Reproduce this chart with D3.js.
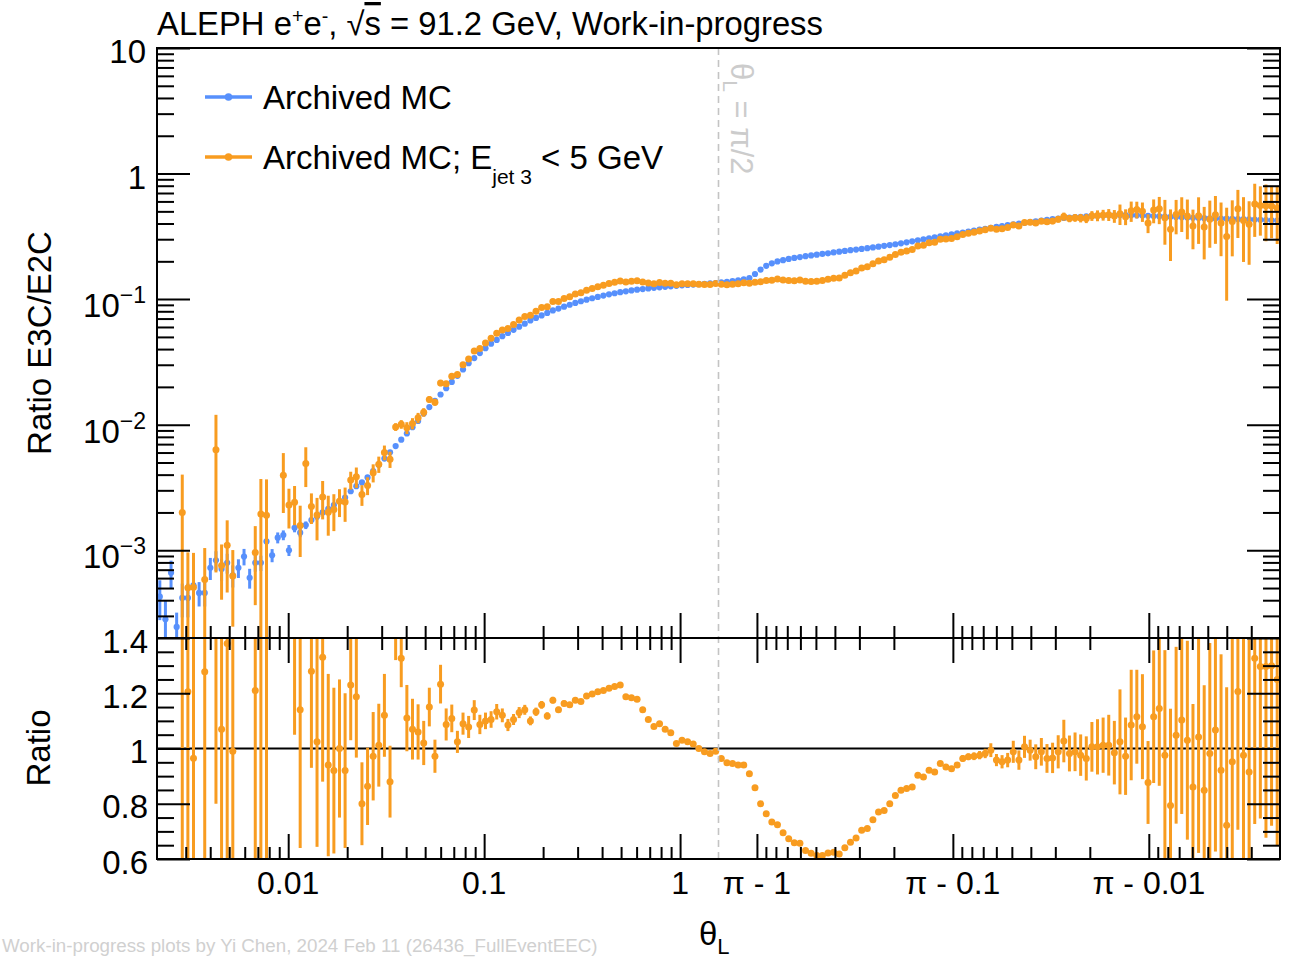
<!DOCTYPE html>
<html><head><meta charset="utf-8">
<script src="https://cdn.jsdelivr.net/npm/d3@7"></script>
<style>
body{margin:0;background:#fff}
svg{display:block}
text{font-family:"Liberation Sans",Arial,Helvetica,sans-serif}
</style>
</head><body>
<svg id="c" width="1296" height="959"></svg>
<script>
// ---------------- DATA ----------------
// Histogram binning: 100 log bins from thetaMin to pi/2, mirrored (in pi - theta) on the right half
const thetaMin = 0.00214;
const binsPerHalf = 100;

// Archived MC: E3C/E2C ratio per bin (200 bins, left half then right half)
const blueValues = [
  4.27e-4, 2.82e-4, 6.61e-4, 2.45e-4, 4.17e-4, 4.17e-4, 5.25e-4, 4.57e-4, 4.57e-4, 7.24e-4,
  8.32e-4, 7.08e-4, 7.94e-4, 6.31e-4, 7.24e-4, 8.91e-4, 6.03e-4, 7.94e-4, 7.94e-4, 1.175e-3,
  9.12e-4, 1.26e-3, 1.32e-3, 1.00e-3, 1.51e-3, 1.38e-3, 1.585e-3, 1.74e-3, 1.86e-3, 2.00e-3,
  2.14e-3, 2.29e-3, 2.45e-3, 2.63e-3, 2.95e-3, 3.24e-3, 3.47e-3, 3.80e-3, 4.27e-3, 4.79e-3,
  5.37e-3, 6.03e-3, 6.76e-3, 7.59e-3, 8.51e-3, 9.55e-3, 0.0107, 0.0123, 0.0138, 0.0155,
  0.0174, 0.0195, 0.0219, 0.0245, 0.0275, 0.0309, 0.0339, 0.0372, 0.0407, 0.0442,
  0.0473, 0.0507, 0.0537, 0.0569, 0.0603, 0.0638, 0.0676, 0.0708, 0.0741, 0.0776,
  0.0813, 0.0841, 0.0871, 0.0902, 0.0933, 0.0962, 0.0989, 0.1016, 0.1042, 0.1067,
  0.1091, 0.1114, 0.1135, 0.1153, 0.1172, 0.1189, 0.1202, 0.1216, 0.1230, 0.1242,
  0.1253, 0.1265, 0.1276, 0.1288, 0.1297, 0.1306, 0.1315, 0.1324, 0.1334, 0.1343,
  0.1361, 0.1374, 0.1390, 0.1413, 0.1439, 0.1472, 0.1585, 0.1718, 0.1841, 0.1928,
  0.1995, 0.2042, 0.2089, 0.2128, 0.2163, 0.2198, 0.2228, 0.2259, 0.2291, 0.2317,
  0.2355, 0.2388, 0.2421, 0.2455, 0.2483, 0.2512, 0.2547, 0.2582, 0.2618, 0.2655,
  0.2692, 0.2735, 0.2780, 0.2831, 0.2884, 0.2938, 0.2992, 0.3048, 0.3105, 0.3162,
  0.3221, 0.3273, 0.3334, 0.3388, 0.3451, 0.3508, 0.3573, 0.3631, 0.3698, 0.3758,
  0.3819, 0.3882, 0.3945, 0.3999, 0.4055, 0.4111, 0.4169, 0.4227, 0.4285, 0.4335,
  0.4385, 0.4426, 0.4467, 0.4498, 0.4529, 0.4560, 0.4581, 0.4603, 0.4624, 0.4645,
  0.4656, 0.4667, 0.4667, 0.4656, 0.4645, 0.4634, 0.4613, 0.4592, 0.4571, 0.4550,
  0.4529, 0.4508, 0.4487, 0.4467, 0.4446, 0.4426, 0.4416, 0.4406, 0.4395, 0.4385,
  0.4375, 0.4365, 0.4345, 0.4335, 0.4315, 0.4305, 0.4285, 0.4266, 0.4246, 0.4227
];
// relative statistical uncertainty of Archived MC
const blueRelErr = [
  0.35, 0.40, 0.25, 0.30, 0.30, 0.30, 0.25, 0.22, 0.22, 0.20,
  0.18, 0.20, 0.18, 0.20, 0.17, 0.15, 0.18, 0.15, 0.14, 0.10,
  0.12, 0.10, 0.09, 0.10, 0.08, 0.08, 0.07, 0.06, 0.06, 0.05,
  0.05, 0.04, 0.04, 0.04, 0.04, 0.04, 0.03, 0.03, 0.03, 0.03,
  0.03, 0.02, 0.02, 0.02, 0.02, 0.02, 0.012, 0.012, 0.012, 0.012,
  0.012, 0.012, 0.012, 0.012, 0.012, 0.012, 0.005, 0.005, 0.005, 0.005,
  0.005, 0.005, 0.005, 0.005, 0.005, 0.005, 0.005, 0.005, 0.005, 0.005,
  0.005, 0.005, 0.005, 0.005, 0.005, 0.005, 0.005, 0.005, 0.005, 0.005,
  0.005, 0.005, 0.005, 0.005, 0.005, 0.005, 0.005, 0.005, 0.005, 0.005,
  0.005, 0.005, 0.005, 0.005, 0.005, 0.005, 0.005, 0.005, 0.005, 0.005,
  0.003, 0.003, 0.003, 0.003, 0.003, 0.003, 0.003, 0.003, 0.003, 0.003,
  0.003, 0.003, 0.003, 0.003, 0.003, 0.003, 0.003, 0.003, 0.003, 0.003,
  0.003, 0.003, 0.003, 0.003, 0.003, 0.003, 0.003, 0.003, 0.003, 0.003,
  0.003, 0.003, 0.003, 0.003, 0.003, 0.003, 0.003, 0.003, 0.003, 0.003,
  0.003, 0.003, 0.003, 0.003, 0.003, 0.003, 0.003, 0.003, 0.003, 0.003,
  0.003, 0.003, 0.003, 0.003, 0.003, 0.003, 0.003, 0.003, 0.003, 0.003,
  0.003, 0.008, 0.008, 0.008, 0.008, 0.008, 0.008, 0.008, 0.008, 0.008,
  0.008, 0.008, 0.008, 0.008, 0.008, 0.008, 0.015, 0.015, 0.015, 0.015,
  0.015, 0.015, 0.015, 0.015, 0.015, 0.015, 0.015, 0.015, 0.015, 0.015,
  0.025, 0.025, 0.025, 0.025, 0.025, 0.025, 0.025, 0.025, 0.025, 0.025
];
// Ratio (Archived MC; E_jet3 < 5 GeV) / (Archived MC), null = empty bin
const ratioValues = [
  null, null, null, null, 4.8, 1.205, 0.965, null, 1.278, null,
  7.6, 1.07, 1.38, 0.99, null, null, null, 1.21, 2.45, 1.62,
  null, null, 3.0, 2.29, 1.6, 1.14, 3.09, 1.28, 1.024, 1.33,
  0.94, 0.92, 1.0, 0.92, 1.23, 1.187, 0.80, 0.863, 0.972, 1.012,
  1.12, 0.88, 1.42, 1.327, 1.11, 1.07, 1.06, 1.02, 1.15, 0.972,
  1.233, 1.087, 1.109, 1.024, 1.09, 1.078, 1.139, 1.087, 1.10, 1.105,
  1.133, 1.12, 1.085, 1.105, 1.13, 1.14, 1.10, 1.133, 1.158, 1.118,
  1.175, 1.14, 1.163, 1.158, 1.175, 1.17, 1.19, 1.197, 1.205, 1.21,
  1.218, 1.224, 1.23, 1.187, 1.184, 1.178, 1.14, 1.105, 1.08, 1.09,
  1.07, 1.057, 1.018, 1.03, 1.024, 1.016, 1.0, 0.988, 0.982, 0.99,
  0.964, 0.948, 0.946, 0.94, 0.94, 0.909, 0.858, 0.80, 0.764, 0.734,
  0.724, 0.695, 0.673, 0.659, 0.657, 0.631, 0.621, 0.613, 0.613, 0.622,
  0.624, 0.618, 0.641, 0.661, 0.676, 0.704, 0.71, 0.742, 0.77, 0.776,
  0.80, 0.83, 0.849, 0.855, 0.861, 0.903, 0.897, 0.921, 0.915, 0.946,
  0.933, 0.927, 0.94, 0.964, 0.97, 0.972, 0.976, 0.982, 0.994, 0.958,
  0.952, 0.958, 0.988, 0.958, 1.006, 0.994, 0.97, 0.988, 0.964, 0.966,
  0.988, 1.027, 0.982, 0.988, 0.976, 0.964, 1.006, 1.006, 1.012, 1.012,
  0.985, 1.024, 0.972, 1.085, 1.115, 1.079, 0.877, 1.115, 1.145, 0.976,
  0.794, 1.048, 1.103, 1.03, 0.861, 1.042, 0.849, 0.982, 1.067, 0.921,
  0.722, 0.952, 1.206, 0.976, 0.915, 1.327, 1.297, 1.297, 1.30, 1.25
];
const ratioErrors = [
  0, 0, 0, 0, 4.8, 1.1, 0.85, 0, 1.0, 0,
  6.8, 0.5, 0.8, 0.6, 0, 0, 0, 0.75, 2.2, 1.5,
  0, 0, 1.5, 0.8, 0.55, 0.5, 1.08, 0.35, 0.38, 0.45,
  0.33, 0.3, 0.25, 0.28, 0.2, 0.22, 0.15, 0.14, 0.16, 0.15,
  0.15, 0.13, 0.1, 0.105, 0.12, 0.11, 0.1, 0.08, 0.07, 0.06,
  0.07, 0.058, 0.05, 0.04, 0.04, 0.04, 0.036, 0.035, 0.03, 0.03,
  0.028, 0.025, 0.022, 0.02, 0.02, 0.018, 0.016, 0.015, 0.014, 0.013,
  0.012, 0.011, 0.011, 0.01, 0.01, 0.009, 0.008, 0.008, 0.008, 0.008,
  0.008, 0.008, 0.008, 0.008, 0.008, 0.008, 0.007, 0.007, 0.007, 0.007,
  0.007, 0.007, 0.007, 0.007, 0.007, 0.007, 0.007, 0.007, 0.007, 0.007,
  0.006, 0.006, 0.006, 0.006, 0.006, 0.006, 0.006, 0.006, 0.006, 0.006,
  0.006, 0.006, 0.006, 0.006, 0.006, 0.006, 0.006, 0.006, 0.006, 0.006,
  0.006, 0.006, 0.006, 0.006, 0.006, 0.006, 0.006, 0.006, 0.006, 0.006,
  0.006, 0.006, 0.006, 0.006, 0.006, 0.006, 0.006, 0.006, 0.006, 0.006,
  0.006, 0.01, 0.01, 0.012, 0.012, 0.014, 0.015, 0.017, 0.025, 0.022,
  0.024, 0.026, 0.04, 0.035, 0.04, 0.038, 0.045, 0.05, 0.052, 0.055,
  0.06, 0.077, 0.065, 0.07, 0.075, 0.08, 0.09, 0.1, 0.1, 0.11,
  0.115, 0.19, 0.14, 0.2, 0.17, 0.19, 0.15, 0.24, 0.28, 0.38,
  0.35, 0.32, 0.34, 0.36, 0.3, 0.42, 0.38, 0.4, 0.44, 0.42,
  0.5, 0.45, 0.5, 0.52, 0.48, 0.6, 0.55, 0.62, 0.58, 0.6
];

const seriesNames = ["Archived MC", "Archived MC; E", "jet 3", " < 5 GeV"];
const xTickThetas = [0.01, 0.1, 1, Math.PI - 1, Math.PI - 0.1, Math.PI - 0.01];
const xTickLabels = ["0.01", "0.1", "1", "\u03c0 - 1", "\u03c0 - 0.1", "\u03c0 - 0.01"];
const yTopTicks = [10, 1, 0.1, 0.01, 0.001];
const yTopLabels = [["10", ""], ["1", ""], ["10", "\u22121"], ["10", "\u22122"], ["10", "\u22123"]];
const yRatioTicks = [1.4, 1.2, 1, 0.8, 0.6];
const yRatioLabels = ["1.4", "1.2", "1", "0.8", "0.6"];

// ---------------- LAYOUT ----------------
const BLUE = "#5790fc", ORANGE = "#f89c20";
const L = 157, R = 1280, T = 48, M = 638, B = 859;
const halfPi = Math.PI / 2;
const fold = th => th <= halfPi ? Math.log10(th) : 2 * Math.log10(halfPi) - Math.log10(Math.PI - th);
const uMin = Math.log10(thetaMin), uMax = 2 * Math.log10(halfPi) - uMin;
const x = d3.scaleLinear().domain([uMin, uMax]).range([L, R]);
const yTop = d3.scaleLog().domain([2e-4, 10]).range([M, T]).clamp(true);
const yRat = d3.scaleLinear().domain([0.6, 1.4]).range([B, M]);

const svg = d3.select("#c");
const defs = svg.append("defs");
defs.append("clipPath").attr("id", "clipTop").append("rect").attr("x", L).attr("y", T).attr("width", R - L).attr("height", M - T);
defs.append("clipPath").attr("id", "clipRat").append("rect").attr("x", L).attr("y", M).attr("width", R - L).attr("height", B - M);

// bins (log centres, folded coordinate)
const du = (Math.log10(halfPi) - uMin) / binsPerHalf;
const bins = blueValues.map((b, i) => {
  const u = uMin + (i + 0.5) * du;
  return { u, b, be: b * blueRelErr[i], r: ratioValues[i], re: ratioErrors[i] };
});
const safe = v => Math.max(v, 1e-9);

// ---------------- TOP PANEL DATA ----------------
const gTop = svg.append("g").attr("clip-path", "url(#clipTop)");
function drawSeries(g, pts, getV, getE, yS, color, rad, log) {
  g.selectAll(null).data(pts).join("line")
    .attr("x1", d => x(d.u)).attr("x2", d => x(d.u))
    .attr("y1", d => yS(log ? safe(getV(d) - getE(d)) : getV(d) - getE(d)))
    .attr("y2", d => yS(getV(d) + getE(d)))
    .attr("stroke", color).attr("stroke-width", 3);
  g.selectAll(null).data(pts).join("circle")
    .attr("cx", d => x(d.u)).attr("cy", d => yS(getV(d)))
    .attr("r", rad).attr("fill", color);
}
drawSeries(gTop, bins, d => d.b, d => d.be, yTop, BLUE, 3.1, true);
const orangePts = bins.filter(d => d.r !== null);
drawSeries(gTop, orangePts, d => d.b * d.r, d => d.b * d.re, yTop, ORANGE, 3.5, true);

// ---------------- RATIO PANEL DATA ----------------
const gRat = svg.append("g").attr("clip-path", "url(#clipRat)");
gRat.append("line").attr("x1", L).attr("x2", R).attr("y1", yRat(1)).attr("y2", yRat(1))
  .attr("stroke", "#000").attr("stroke-width", 2);
drawSeries(gRat, orangePts, d => d.r, d => d.re, yRat, ORANGE, 3.5, false);

// ---------------- pi/2 dashed line ----------------
svg.append("line").attr("x1", x(fold(halfPi))).attr("x2", x(fold(halfPi)))
  .attr("y1", T).attr("y2", B).attr("stroke", "#c4c4c4").attr("stroke-width", 1.6)
  .attr("stroke-dasharray", "7,5");
const pl = svg.append("text").attr("transform", `translate(${x(fold(halfPi)) + 12},63) rotate(90)`)
  .attr("font-size", 31).attr("fill", "#cccccc");
pl.append("tspan").text("\u03b8");
pl.append("tspan").attr("font-size", 21).attr("dy", 8).text("L");
pl.append("tspan").attr("dy", -8).text(" = \u03c0/2");

// ---------------- AXES (ticks) ----------------
const tickStyle = g => { g.select(".domain").remove(); g.selectAll("line").attr("stroke", "#000").attr("stroke-width", 2); };
const yTopMinor = [];
[-4, -3, -2, -1, 0].forEach(e => { for (let k = 2; k <= 9; k++) { const v = k * Math.pow(10, e); if (v > 2e-4 && v < 10) yTopMinor.push(v); } });
const yRatMinor = d3.range(0.65, 1.4, 0.05).filter(v => Math.abs(Math.round(v * 5) - v * 5) > 1e-6);

[[L, d3.axisRight], [R, d3.axisLeft]].forEach(([xx, ax]) => {
  svg.append("g").attr("transform", `translate(${xx},0)`).call(ax(yTop).tickValues(yTopTicks).tickSize(33).tickFormat("")).call(tickStyle);
  svg.append("g").attr("transform", `translate(${xx},0)`).call(ax(yTop).tickValues(yTopMinor).tickSize(17).tickFormat("")).call(tickStyle);
  svg.append("g").attr("transform", `translate(${xx},0)`).call(ax(yRat).tickValues(yRatioTicks).tickSize(33).tickFormat("")).call(tickStyle);
  svg.append("g").attr("transform", `translate(${xx},0)`).call(ax(yRat).tickValues(yRatMinor).tickSize(17).tickFormat("")).call(tickStyle);
});

const xMajorU = xTickThetas.map(fold);
const xMinorU = [];
[-3, -2, -1, 0].forEach(e => {
  for (let k = 2; k <= 9; k++) {
    const t = k * Math.pow(10, e);
    if (t > thetaMin && t < halfPi) { xMinorU.push(fold(t)); xMinorU.push(fold(Math.PI - t)); }
  }
});
[[M, d3.axisTop], [M, d3.axisBottom], [B, d3.axisTop]].forEach(([yy, ax]) => {
  svg.append("g").attr("transform", `translate(0,${yy})`).call(ax(x).tickValues(xMajorU).tickSize(25).tickFormat("")).call(tickStyle);
  svg.append("g").attr("transform", `translate(0,${yy})`).call(ax(x).tickValues(xMinorU).tickSize(12).tickFormat("")).call(tickStyle);
});

// frames
svg.append("rect").attr("x", L).attr("y", T).attr("width", R - L).attr("height", M - T).attr("fill", "none").attr("stroke", "#000").attr("stroke-width", 2);
svg.append("rect").attr("x", L).attr("y", M).attr("width", R - L).attr("height", B - M).attr("fill", "none").attr("stroke", "#000").attr("stroke-width", 2);

// ---------------- LABELS ----------------
yTopTicks.forEach((v, i) => {
  const [base, sup] = yTopLabels[i];
  const t = svg.append("text").attr("x", 146).attr("y", yTop(v) + (sup ? 18 : 15))
    .attr("text-anchor", "end").attr("font-size", 33).attr("fill", "#000");
  t.append("tspan").text(base);
  if (sup) t.append("tspan").attr("font-size", 23).attr("dy", -14).text(sup);
});
yRatioTicks.forEach((v, i) => {
  svg.append("text").attr("x", 148).attr("y", yRat(v) + 14.5).attr("text-anchor", "end")
    .attr("font-size", 33).text(yRatioLabels[i]);
});
xTickThetas.forEach((t, i) => {
  svg.append("text").attr("x", x(fold(t))).attr("y", 894).attr("text-anchor", "middle")
    .attr("font-size", 32).text(xTickLabels[i]);
});

svg.append("text").attr("transform", "translate(51,343) rotate(-90)").attr("text-anchor", "middle")
  .attr("font-size", 33).text("Ratio E3C/E2C");
svg.append("text").attr("transform", "translate(50,748) rotate(-90)").attr("text-anchor", "middle")
  .attr("font-size", 33).text("Ratio");

const xt = svg.append("text").attr("x", 699).attr("y", 945).attr("font-size", 33);
xt.append("tspan").text("\u03b8");
xt.append("tspan").attr("font-size", 22).attr("dy", 9).text("L");

// title
const title = svg.append("text").attr("x", 157).attr("y", 35).attr("font-size", 32);
title.append("tspan").text("ALEPH e");
title.append("tspan").attr("font-size", "0.6em").attr("dy", -12).text("+");
title.append("tspan").attr("dy", 12).text("e");
title.append("tspan").attr("font-size", "0.6em").attr("dy", -12).text("-");
title.append("tspan").attr("dy", 12).text(", \u221a");
title.append("tspan").attr("text-decoration", "overline").text("s");
title.append("tspan").text(" = 91.2 GeV, Work-in-progress");
function fit(sel, target) {
  const w = sel.node().getComputedTextLength();
  const fs = parseFloat(sel.attr("font-size"));
  sel.attr("font-size", fs * target / w);
}
fit(title, 666);

// legend
const legend = [{ y: 97, c: BLUE }, { y: 157, c: ORANGE }];
legend.forEach((l, i) => {
  svg.append("line").attr("x1", 205).attr("x2", 252).attr("y1", l.y).attr("y2", l.y).attr("stroke", l.c).attr("stroke-width", 3.5);
  svg.append("circle").attr("cx", 228.5).attr("cy", l.y).attr("r", 3.8).attr("fill", l.c);
});
svg.append("text").attr("x", 263).attr("y", 109).attr("font-size", 33).text(seriesNames[0]);
const lt = svg.append("text").attr("x", 263).attr("y", 169).attr("font-size", 33);
lt.append("tspan").text(seriesNames[1]);
lt.append("tspan").attr("font-size", 21).attr("dy", 15).text(seriesNames[2]);
lt.append("tspan").attr("dy", -15).text(seriesNames[3]);

// footer
const foot = svg.append("text").attr("x", 2).attr("y", 952).attr("font-size", 19).attr("fill", "#d0d0d0")
  .text("Work-in-progress plots by Yi Chen, 2024 Feb 11 (26436_FullEventEEC)");
fit(foot, 596);
</script>
</body></html>
